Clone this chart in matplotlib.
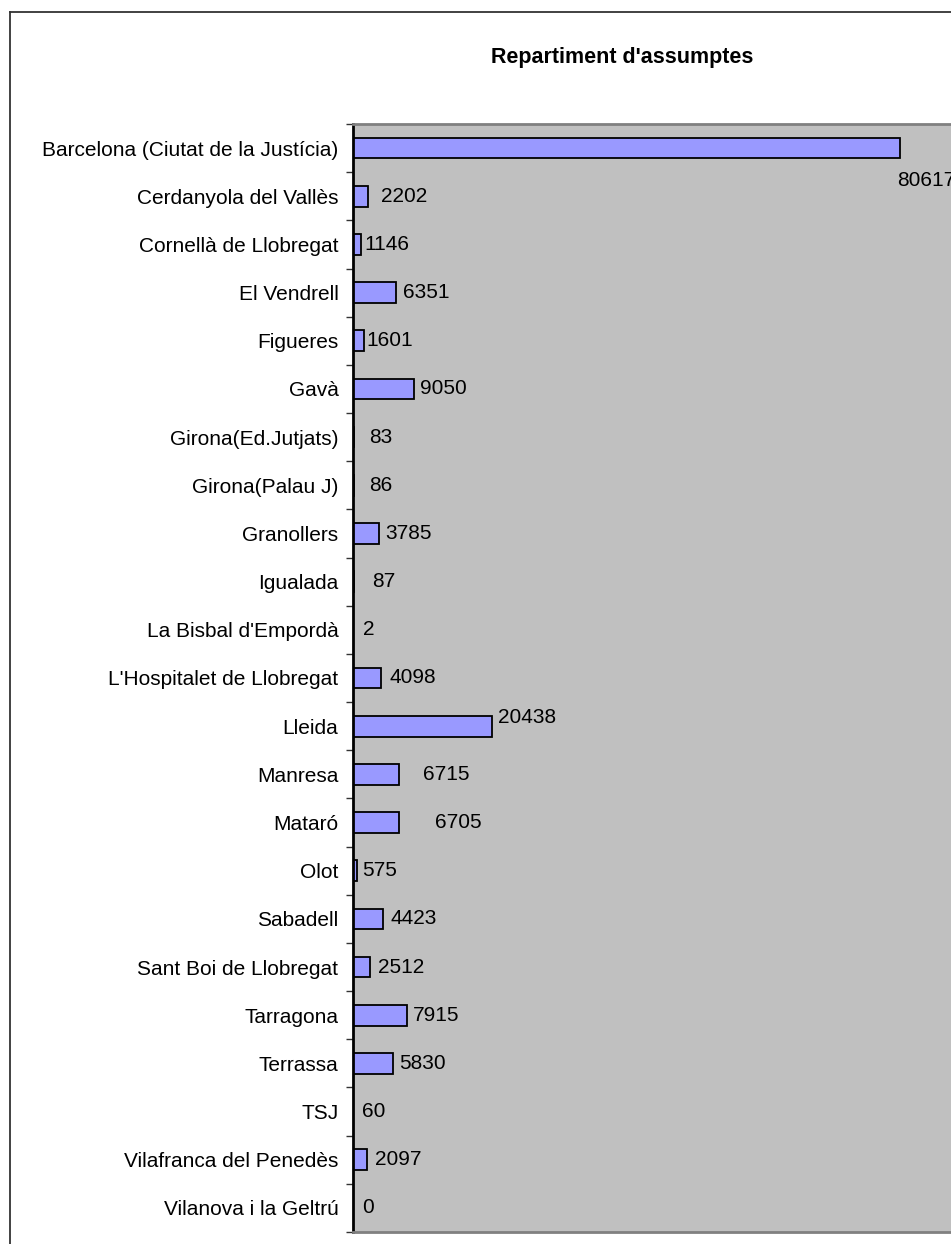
import numpy as np
import matplotlib
matplotlib.use('Agg')
import matplotlib.pyplot as plt
from matplotlib.lines import Line2D

plt.rcParams['font.family'] = ['Liberation Sans', 'DejaVu Sans']

# data
courts = ['Barcelona (Ciutat de la Justícia)', 'Cerdanyola del Vallès', 'Cornellà de Llobregat',
          'El Vendrell', 'Figueres', 'Gavà', 'Girona(Ed.Jutjats)', 'Girona(Palau J)',
          'Granollers', 'Igualada', "La Bisbal d'Empordà", "L'Hospitalet de Llobregat",
          'Lleida', 'Manresa', 'Mataró', 'Olot', 'Sabadell', 'Sant Boi de Llobregat',
          'Tarragona', 'Terrassa', 'TSJ', 'Vilafranca del Penedès', 'Vilanova i la Geltrú']
cases = [80617, 2202, 1146, 6351, 1601, 9050, 83, 86, 3785, 87, 2, 4098,
         20438, 6715, 6705, 575, 4423, 2512, 7915, 5830, 60, 2097, 0]

# label offsets (pixels) mimicking Excel's placement
lab_dx = [-3, 13, 4, 7, 3, 6, 16, 16, 7, 19, 10, 9, 6, 24, 36, 5, 7, 8, 6, 7, 9, 8, 9]
lab_dy = [-32, 0, 0, 0, 0, 0, 0, 0, 0, 0, 0, 0, 9, 0, 0, 0, 0, 0, 0, 0, 0, 0, 0]

W, H = 951, 1244
fig = plt.figure(figsize=(W/100, H/100), dpi=100)

# outer chart frame
fig.add_artist(Line2D([10/W, 10/W], [0, 1-11.5/H], color='#333333', lw=1.3))
fig.add_artist(Line2D([10/W, 1], [1-11.5/H, 1-11.5/H], color='#333333', lw=1.3))

ax = fig.add_axes([353/W, 12/H, 611/W, 1108/H])
ax.set_facecolor('#C0C0C0')

y = np.arange(len(courts))
ax.barh(y, cases, height=0.43, color='#9999FF', edgecolor='black', linewidth=1.3)
ax.set_xlim(0, 90000)
ax.set_ylim(len(courts)-0.5, -0.5)

for i, v in enumerate(cases):
    ax.annotate(str(v), (v, y[i]), xytext=(lab_dx[i], lab_dy[i]), textcoords='offset pixels',
                ha='left', va='center', fontsize=15, color='black')

ax.set_yticks(y)
ax.set_yticklabels(courts, fontsize=15)
ax.tick_params(axis='y', which='major', length=0, pad=10.5)
ax.set_yticks(np.arange(len(courts)+1)-0.5, minor=True)
ax.tick_params(axis='y', which='minor', length=5, width=1, color='#333333', direction='out')
ax.set_xticks([])

ax.spines['left'].set_color('black')
ax.spines['left'].set_linewidth(2)
ax.spines['top'].set_color('#808080')
ax.spines['top'].set_linewidth(2)
ax.spines['bottom'].set_color('#808080')
ax.spines['bottom'].set_linewidth(2)
ax.spines['right'].set_visible(False)

fig.text(622/W, 1-57/H, "Repartiment d'assumptes", ha='center', va='center',
         fontsize=15.5, fontweight='bold')

fig.savefig('out.png', dpi=100)
